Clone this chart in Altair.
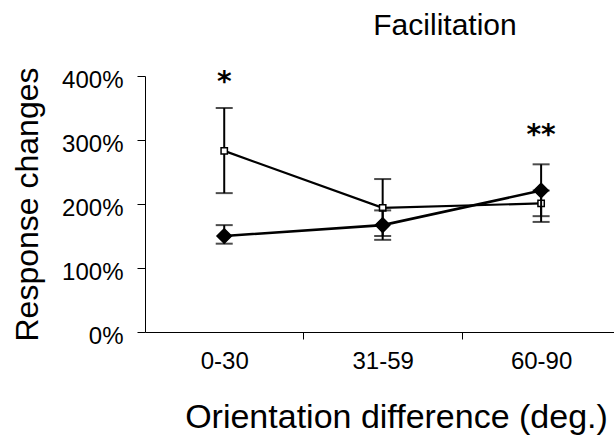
import altair as alt
import pandas as pd

categories = ["0-30", "31-59", "60-90"]
open_mean = [283, 194, 201]
open_low = [217, 150, 181]
open_high = [350, 239, 221]
filled_mean = [150, 167, 221]
filled_low = [138, 144, 172]
filled_high = [167, 190, 262]
sig_labels = ["*", "", "**"]
sig_level = [376, 0, 294]
y_ticks = [0, 100, 200, 300, 400]
chart_title = "Facilitation"

pos = list(range(len(categories)))
df_open = pd.DataFrame({"cat": categories, "pos": pos, "mean": open_mean,
                        "low": open_low, "high": open_high})
df_fill = pd.DataFrame({"cat": categories, "pos": pos, "mean": filled_mean,
                        "low": filled_low, "high": filled_high})
df_sig = pd.DataFrame({"pos": pos, "label": sig_labels, "level": sig_level})
df_sig = df_sig[df_sig["label"] != ""]
df_title = pd.DataFrame({"t": [chart_title]})

label_expr = " : ".join(
    [f"datum.value == {i} ? '{c}'" for i, c in enumerate(categories)]) + " : ''"

FONT = "Liberation Sans"

x_scale = alt.Scale(domain=[-0.5, 2.46], nice=False, zero=False)
y_scale = alt.Scale(domain=[0, 400], nice=False)

x_axis = alt.Axis(
    values=[0, 0.5, 1, 1.5, 2],
    labelExpr=label_expr,
    labelFont=FONT, labelFontSize=24, labelColor="black",
    labelPadding=10, labelOverlap=False, labelFlush=False,
    tickSize=7, tickColor="black", tickWidth=1,
    tickOpacity={"condition": {"test": "datum.value % 1 == 0", "value": 0}, "value": 1},
    domainColor="black", domainWidth=1, grid=False,
    title="Orientation difference (deg.)",
    titleFont=FONT, titleFontSize=34, titleFontWeight="normal", titleColor="black",
    titleX=251, titleY=95, titleBaseline="alphabetic", titleAlign="center",
)
y_axis = alt.Axis(
    values=y_ticks,
    labelExpr="datum.value + '%'",
    labelFont=FONT, labelFontSize=24, labelColor="black",
    labelPadding=14, labelOffset=4,
    tickSize=8, tickColor="black", tickWidth=1,
    domainColor="black", domainWidth=1, grid=False,
    title="Response changes",
    titleFont=FONT, titleFontSize=32, titleFontWeight="normal", titleColor="black",
    titleX=-108, titleY=128, titleBaseline="alphabetic", titleAlign="center",
    titleAngle=-90,
)

def series(df, line_w, shape, size, fill):
    x = alt.X("pos:Q", scale=x_scale, axis=x_axis)
    y = alt.Y("mean:Q", scale=y_scale, axis=y_axis)
    line = alt.Chart(df).mark_line(color="black", strokeWidth=line_w).encode(x=x, y=y)
    err = alt.Chart(df).mark_rule(color="black", strokeWidth=2).encode(
        x="pos:Q", y="low:Q", y2="high:Q")
    cap_lo = alt.Chart(df).mark_tick(color="black", orient="horizontal",
                                      size=17, thickness=2).encode(x="pos:Q", y="low:Q")
    cap_hi = alt.Chart(df).mark_tick(color="black", orient="horizontal",
                                      size=17, thickness=2).encode(x="pos:Q", y="high:Q")
    pts = alt.Chart(df).mark_point(shape=shape, size=size, filled=False, fill=fill,
                                   fillOpacity=1, stroke="black", strokeWidth=1.5,
                                   opacity=1).encode(x="pos:Q", y="mean:Q")
    return [line, err, cap_lo, cap_hi, pts]

layers = series(df_open, 2.2, "square", 40, "white") + \
         series(df_fill, 2.6, "diamond", 210, "black")

stars = alt.Chart(df_sig).mark_text(font="DejaVu Sans", fontSize=28, fontWeight="bold",
                                    color="black", baseline="alphabetic",
                                    align="center").encode(
    x="pos:Q", y="level:Q", text="label:N")

title_mark = alt.Chart(df_title).mark_text(
    font=FONT, fontSize=30, color="black", baseline="alphabetic", align="center"
).encode(x=alt.value(300), y=alt.value(-41), text="t:N")

chart = alt.layer(*layers, stars, title_mark).properties(
    width=469, height=256,
    padding={"left": 145, "top": 76, "right": 0, "bottom": 109},
    autosize=alt.AutoSizeParams(type="none"),
).configure_view(stroke=None)

chart.save("out.html", embed_options={"renderer": "svg", "actions": False})
